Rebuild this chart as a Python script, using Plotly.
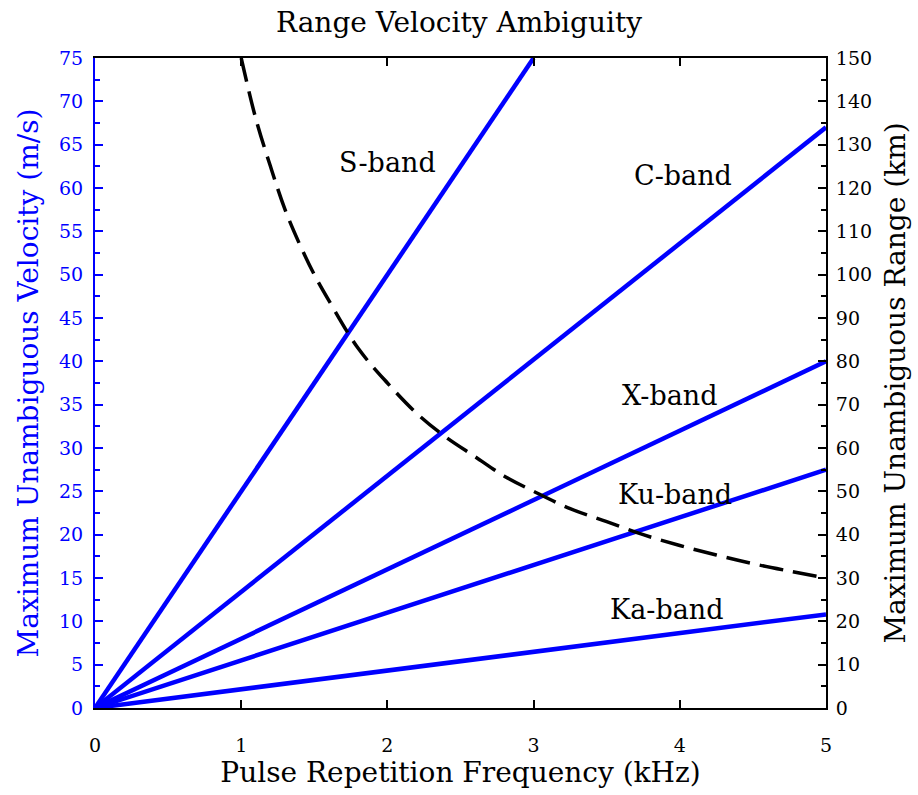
import plotly.graph_objects as go

# Radar bands: maximum unambiguous velocity (m/s) vs PRF (kHz), straight lines from origin
bands = ["S-band", "C-band", "X-band", "Ku-band", "Ka-band"]
band_prf_end = [3.0, 5.0, 5.0, 5.0, 5.0]
band_vel_end = [75.0, 67.0, 40.0, 27.5, 10.8]

# Label placement (PRF kHz, velocity m/s)
label_prf = [2.0, 4.02, 3.93, 3.97, 3.91]
label_vel = [62.9, 61.5, 36.1, 24.6, 11.4]

# Maximum unambiguous range (km) vs PRF (kHz)
range_prf = [1.0, 1.1, 1.2, 1.3, 1.4, 1.5, 1.6, 1.8, 2.0, 2.2, 2.4, 2.6, 2.8,
             3.0, 3.25, 3.5, 3.75, 4.0, 4.25, 4.5, 4.75, 5.0]
range_km = [150, 136, 125, 115, 107, 100, 94, 83, 75, 68, 62.5, 58, 53.5,
            50, 46, 43, 40, 37.5, 35.3, 33.3, 31.6, 30]

FONT = "DejaVu Serif"
BLUE = "#0000ff"

fig = go.Figure()

for name, xe, ye in zip(bands, band_prf_end, band_vel_end):
    fig.add_trace(go.Scatter(x=[0, xe], y=[0, ye], mode="lines", name=name,
                             line=dict(color=BLUE, width=4.5), showlegend=False))

fig.add_trace(go.Scatter(x=range_prf, y=range_km, mode="lines", yaxis="y2",
                         line=dict(color="black", width=3.5, dash="24px,10px",
                                   shape="spline"),
                         showlegend=False))

for name, lx, ly in zip(bands, label_prf, label_vel):
    fig.add_annotation(x=lx, y=ly, text=name, showarrow=False,
                       font=dict(family=FONT, size=27, color="black"))

fig.update_layout(
    width=918, height=795,
    margin=dict(l=95, r=92, t=58, b=87),
    paper_bgcolor="white", plot_bgcolor="white",
    title=dict(text="Range Velocity Ambiguity", x=0.5, xanchor="center",
               y=1 - 22 / 795, yanchor="middle",
               font=dict(family=FONT, size=28, color="black")),
    xaxis=dict(range=[0, 5], dtick=1, showgrid=False, zeroline=False,
               showline=True, linecolor="black", linewidth=2, mirror="ticks",
               ticks="inside", ticklen=8, tickcolor="black", tickwidth=2,
               ticklabelstandoff=19,
               tickfont=dict(family=FONT, size=19, color="black"),
               title=dict(text="Pulse Repetition Frequency (kHz)", standoff=6,
                          font=dict(family=FONT, size=28, color="black"))),
    yaxis=dict(range=[0, 75], dtick=5, showgrid=False, zeroline=False,
               showline=True, linecolor=BLUE, linewidth=2,
               ticks="inside", ticklen=8, tickcolor=BLUE, tickwidth=2,
               minor=dict(dtick=2.5, ticks="inside", ticklen=5, tickcolor=BLUE),
               ticklabelstandoff=6,
               tickfont=dict(family=FONT, size=19, color=BLUE),
               title=dict(text="Maximum Unambiguous Velocity (m/s)", standoff=12,
                          font=dict(family=FONT, size=28, color=BLUE))),
    yaxis2=dict(range=[0, 150], dtick=10, overlaying="y", side="right",
                showgrid=False, zeroline=False,
                showline=True, linecolor="black", linewidth=2,
                ticks="inside", ticklen=8, tickcolor="black", tickwidth=2,
                minor=dict(dtick=5, ticks="inside", ticklen=5, tickcolor="black"),
                ticklabelstandoff=4,
                tickfont=dict(family=FONT, size=19, color="black"),
                title=dict(text="Maximum Unambiguous Range (km)", standoff=14,
                           font=dict(family=FONT, size=28, color="black"))),
)

fig.write_html("out.html")
